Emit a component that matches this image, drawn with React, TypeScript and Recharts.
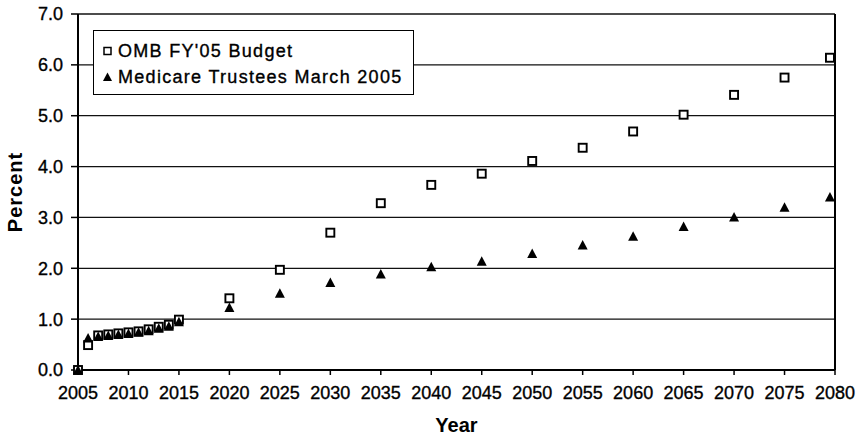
import { ScatterChart, Scatter, XAxis, YAxis, CartesianGrid, Legend, ReferenceLine } from 'recharts';

const years = [
  2005, 2006, 2007, 2008, 2009, 2010, 2011, 2012, 2013, 2014, 2015,
  2020, 2025, 2030, 2035, 2040, 2045, 2050, 2055, 2060, 2065, 2070, 2075, 2079.5,
];
const ombBudget = [
  0.0, 0.49, 0.68, 0.7, 0.72, 0.74, 0.76, 0.8, 0.85, 0.89, 0.99,
  1.41, 1.97, 2.7, 3.28, 3.64, 3.86, 4.11, 4.37, 4.69, 5.02, 5.41, 5.75, 6.14,
];
const trustees = [
  0.0, 0.63, 0.66, 0.68, 0.7, 0.72, 0.74, 0.77, 0.82, 0.86, 0.95,
  1.23, 1.51, 1.72, 1.89, 2.03, 2.14, 2.29, 2.46, 2.63, 2.82, 3.01, 3.2, 3.4,
];
const xTicks = [2005, 2010, 2015, 2020, 2025, 2030, 2035, 2040, 2045, 2050, 2055, 2060, 2065, 2070, 2075, 2080];
const yTicks = [0, 1, 2, 3, 4, 5, 6, 7];

const FONT = '"Liberation Sans", Arial, sans-serif';

const ombData = years.map((year, i) => ({ year, value: ombBudget[i] }));
const trusteesData = years.map((year, i) => ({ year, value: trustees[i] }));

const SquareMark = (props: any) => {
  const { cx, cy } = props;
  if (cx == null || cy == null) return null;
  return <rect x={cx - 4} y={cy - 4} width={8} height={8} fill="#fff" stroke="#000" strokeWidth={1.9} />;
};

const TriangleMark = (props: any) => {
  const { cx, cy } = props;
  if (cx == null || cy == null) return null;
  return <polygon points={`${cx},${cy - 5} ${cx + 5},${cy + 4.5} ${cx - 5},${cy + 4.5}`} fill="#000" />;
};

function LegendBox() {
  const row = { display: 'flex', alignItems: 'center', height: 26 } as const;
  const text = {
    fontSize: 18,
    letterSpacing: 1.3,
    color: '#000',
    fontFamily: FONT,
    whiteSpace: 'nowrap',
    WebkitTextStroke: '0.35px #000',
  } as const;
  return (
    <div
      style={{
        border: '1px solid #000',
        background: '#fff',
        width: 311,
        height: 56,
        boxSizing: 'content-box',
        padding: '7px 0 0 8px',
        textAlign: 'left',
      }}
    >
      <div style={row}>
        <svg width={16} height={12}>
          <rect x={2} y={2.5} width={7} height={7} fill="#fff" stroke="#000" strokeWidth={1.5} />
        </svg>
        <span style={text}>OMB FY'05 Budget</span>
      </div>
      <div style={row}>
        <svg width={16} height={12}>
          <polygon points="5.5,1.5 10,10 1,10" fill="#000" />
        </svg>
        <span style={text}>Medicare Trustees March 2005</span>
      </div>
    </div>
  );
}

const tickStyle = { fill: '#000', fontSize: 18, fontFamily: FONT, stroke: '#000', strokeWidth: 0.35 };

export default function App() {
  return (
    <div style={{ position: 'absolute', left: 0, top: 0, background: '#fff' }}>
      <ScatterChart width={865} height={435} margin={{ top: 14, right: 30, bottom: 0, left: 0 }}>
        <CartesianGrid vertical={false} stroke="#111" strokeWidth={1.3} />
        <XAxis
          type="number"
          dataKey="year"
          domain={[2005, 2080]}
          ticks={xTicks}
          interval={0}
          height={65}
          tickSize={5}
          tickMargin={11}
          axisLine={{ stroke: '#000', strokeWidth: 2 }}
          tickLine={{ stroke: '#000', strokeWidth: 1.5 }}
          tick={tickStyle}
          label={{
            value: 'Year',
            position: 'insideBottom',
            offset: 3,
            style: { fill: '#000', fontSize: 20, fontWeight: 'bold', fontFamily: FONT },
          }}
        />
        <YAxis
          type="number"
          dataKey="value"
          domain={[0, 7]}
          ticks={yTicks}
          interval={0}
          width={78}
          tickSize={7}
          tickMargin={8}
          tickFormatter={(v: number) => v.toFixed(1)}
          axisLine={{ stroke: '#000', strokeWidth: 2 }}
          tickLine={{ stroke: '#000', strokeWidth: 1.5 }}
          tick={tickStyle}
          label={{
            value: 'Percent',
            angle: -90,
            position: 'insideLeft',
            offset: 15,
            style: { fill: '#000', fontSize: 20, fontWeight: 'bold', fontFamily: FONT, textAnchor: 'middle', letterSpacing: 1 },
          }}
        />
        <ReferenceLine x={2080} stroke="#000" strokeWidth={2} />
        <Legend
          verticalAlign="middle"
          align="center"
          layout="horizontal"
          content={() => <LegendBox />}
          wrapperStyle={{ left: 93, top: 30, width: 'auto' }}
        />
        <Scatter name="OMB FY'05 Budget" data={ombData} shape={SquareMark} isAnimationActive={false} />
        <Scatter name="Medicare Trustees March 2005" data={trusteesData} shape={TriangleMark} isAnimationActive={false} />
      </ScatterChart>
    </div>
  );
}
